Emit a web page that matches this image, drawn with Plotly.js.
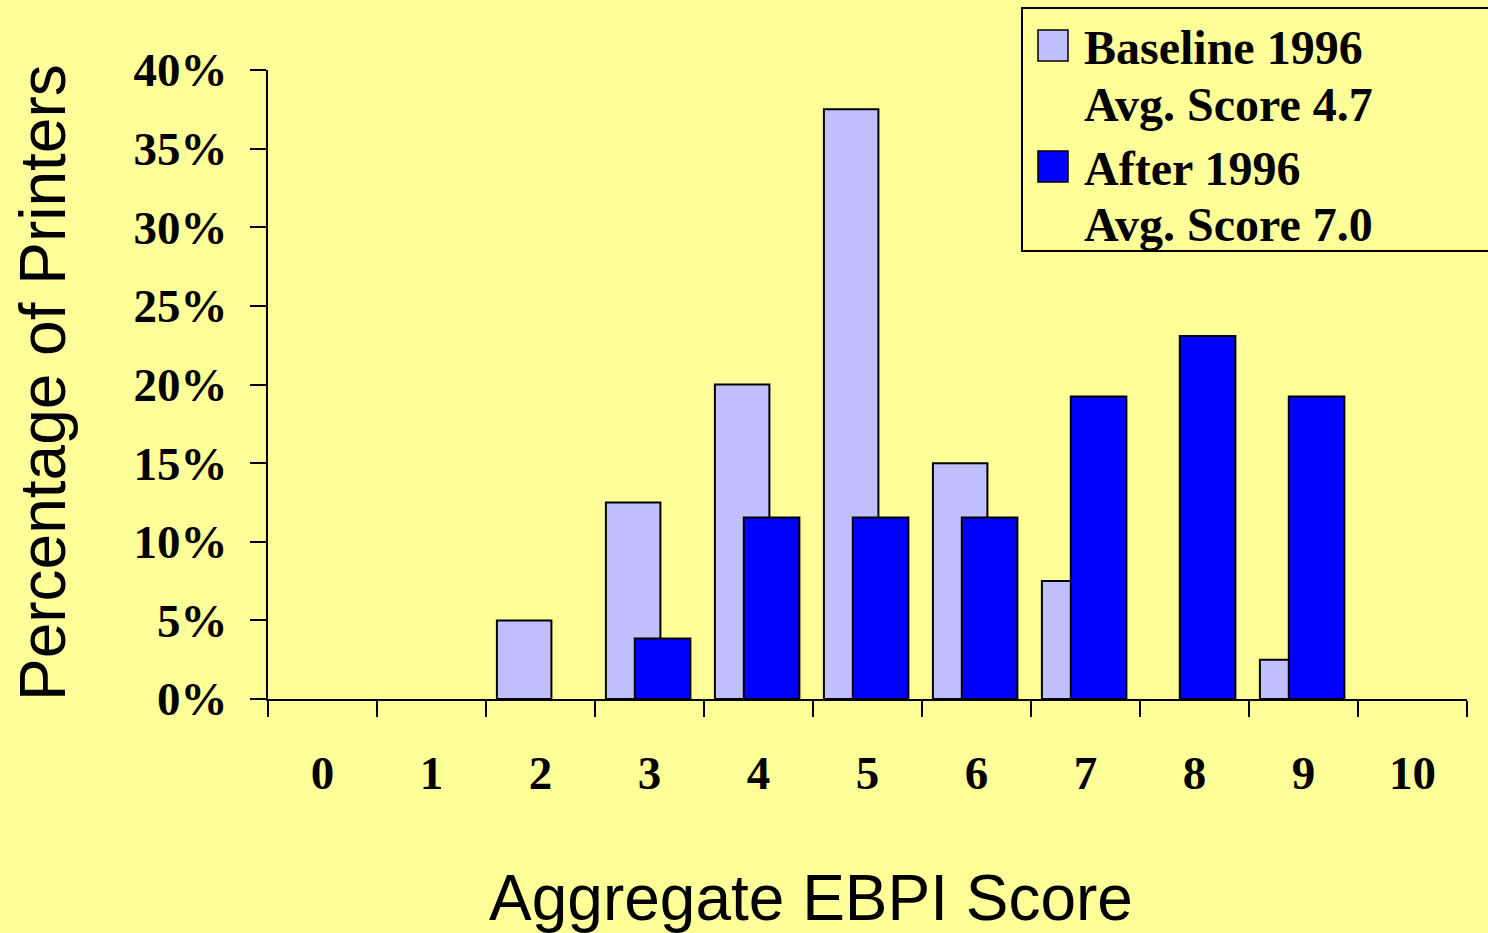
<!DOCTYPE html>
<html>
<head>
<meta charset="utf-8">
<script src="https://cdn.plot.ly/plotly-3.0.1.min.js"></script>
<style>
html,body{margin:0;padding:0;background:#FFFF99;}
#chart{width:1488px;height:933px;}
</style>
</head>
<body>
<div id="chart"></div>
<script>
// Data
const scores = ['0','1','2','3','4','5','6','7','8','9','10'];
const baseline1996 = [null, null, 5, 12.5, 20, 37.5, 15, 7.5, null, 2.5, null];
const after1996 = [null, null, null, 3.85, 11.54, 11.54, 11.54, 19.23, 23.08, 19.23, null];
const yTicks = [0, 5, 10, 15, 20, 25, 30, 35, 40];
const seriesNames = ['Baseline 1996', 'After 1996'];
const seriesNotes = ['Avg. Score 4.7', 'Avg. Score 7.0'];
const seriesColors = ['#C0C0FF', '#0000FF'];

const W = 1488, H = 933;
const M = {l: 268, r: 21, t: 70, b: 234};
const PW = W - M.l - M.r, PH = H - M.t - M.b;
const px = x => (x - M.l) / PW;
const py = y => (H - M.b - y) / PH;

const serif = 'Liberation Serif, Times New Roman, serif';
const sans = 'Liberation Sans, Arial, sans-serif';

const traces = [
  {
    type: 'bar', name: seriesNames[0], x: scores, y: baseline1996,
    offset: -0.4, width: 0.5,
    marker: {color: seriesColors[0], line: {color: '#000', width: 2}},
    showlegend: false, hovertemplate: '%{x}: %{y}%<extra>' + seriesNames[0] + '</extra>'
  },
  {
    type: 'bar', name: seriesNames[1], x: scores, y: after1996,
    offset: -0.135, width: 0.51,
    marker: {color: seriesColors[1], line: {color: '#000', width: 2}},
    showlegend: false, hovertemplate: '%{x}: %{y}%<extra>' + seriesNames[1] + '</extra>'
  }
];

// custom legend
const legendTop = [30, 151];
const lineCenters = [[47, 104], [168, 225]];
const shapes = [{
  type: 'rect', xref: 'paper', yref: 'paper',
  x0: px(1022), x1: px(1492), y0: py(251), y1: py(8),
  line: {color: '#000', width: 2}, fillcolor: 'rgba(0,0,0,0)'
}];
const annotations = [];
seriesNames.forEach((n, i) => {
  shapes.push({
    type: 'rect', xref: 'paper', yref: 'paper',
    x0: px(1038), x1: px(1068), y0: py(legendTop[i] + 31), y1: py(legendTop[i]),
    line: {color: '#000', width: 1.5}, fillcolor: seriesColors[i]
  });
  annotations.push({
    xref: 'paper', yref: 'paper', x: px(1082), y: py(lineCenters[i][0]),
    xanchor: 'left', yanchor: 'middle', showarrow: false, text: '<b>' + n + '</b>',
    font: {family: serif, size: 48, color: '#000'}
  });
  annotations.push({
    xref: 'paper', yref: 'paper', x: px(1082), y: py(lineCenters[i][1]),
    xanchor: 'left', yanchor: 'middle', showarrow: false, text: '<b>' + seriesNotes[i] + '</b>',
    font: {family: serif, size: 48, color: '#000'}
  });
});
annotations.push({
  xref: 'paper', yref: 'paper', x: px(811), y: py(898),
  xanchor: 'center', yanchor: 'middle', showarrow: false,
  text: 'Aggregate EBPI Score', font: {family: sans, size: 64, color: '#000'}
});
annotations.push({
  xref: 'paper', yref: 'paper', x: px(43), y: py(383),
  xanchor: 'center', yanchor: 'middle', showarrow: false, textangle: -90,
  text: 'Percentage of Printers', font: {family: sans, size: 64, color: '#000'}
});

const layout = {
  width: W, height: H,
  margin: M,
  paper_bgcolor: '#FFFF99', plot_bgcolor: '#FFFF99',
  barmode: 'overlay',
  showlegend: false,
  xaxis: {
    type: 'category', range: [-0.5, 10.5],
    showline: true, linecolor: '#000', linewidth: 2,
    ticks: 'outside', tickson: 'boundaries', ticklen: 16, tickwidth: 2, tickcolor: '#000',
    showgrid: false, zeroline: false,
    tickfont: {family: serif, size: 47, color: '#000'},
    tickprefix: '<b>', ticksuffix: '</b>',
    ticklabelstandoff: 32
  },
  yaxis: {
    range: [0, 40], tickvals: yTicks,
    ticktext: yTicks.map(v => '<b>' + v + '%</b>'),
    showline: true, linecolor: '#000', linewidth: 2,
    ticks: 'outside', ticklen: 16, tickwidth: 2, tickcolor: '#000',
    showgrid: false, zeroline: false,
    tickfont: {family: serif, size: 47, color: '#000'},
    ticklabelstandoff: 13
  },
  shapes: shapes,
  annotations: annotations
};

Plotly.newPlot('chart', traces, layout, {displayModeBar: false, staticPlot: true});
</script>
</body>
</html>
